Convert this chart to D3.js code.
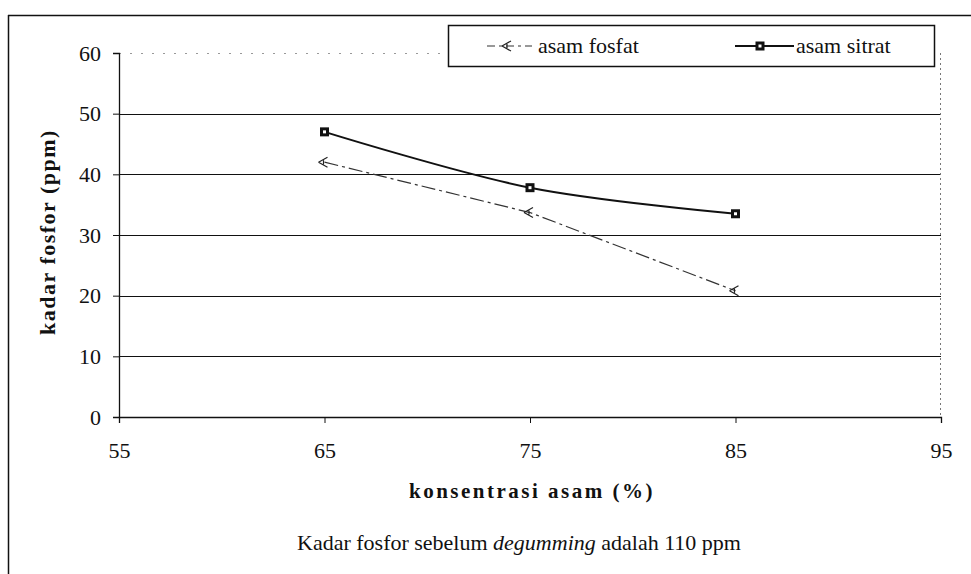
<!DOCTYPE html>
<meta charset="utf-8">
<style>
    body { margin: 0; background: #fff; }
</style>
<svg width="971" height="574"></svg>
<script src="https://cdn.jsdelivr.net/npm/d3@7"></script>
<script>

    // data
    var konsentrasi = [65, 75, 85];
    var asamFosfat = [42, 33.7, 20.8];
    var asamSitrat = [47, 37.8, 33.5];
    var xTicks = [55, 65, 75, 85, 95];
    var yTicks = [0, 10, 20, 30, 40, 50, 60];
    var seriesNames = ["asam fosfat", "asam sitrat"];

    var serif = "'Liberation Serif', 'Times New Roman', serif";
    var svg = d3.select("svg");

    var x = d3.scaleLinear().domain([55, 95]).range([119, 941]);
    var y = d3.scaleLinear().domain([0, 60]).range([417, 53]);

    // outer frame (top + left edge of the scanned figure)
    svg.append("line").attr("x1", 8).attr("x2", 971).attr("y1", 15.5).attr("y2", 15.5)
        .attr("stroke", "#111").attr("stroke-width", 1.5);
    svg.append("line").attr("x1", 8.5).attr("x2", 8.5).attr("y1", 15).attr("y2", 574)
        .attr("stroke", "#111").attr("stroke-width", 1.5);

    // gridlines
    svg.append("g").selectAll("line")
        .data(yTicks.filter(function (d) { return d > 0; }))
        .enter().append("line")
        .attr("x1", x(55)).attr("x2", x(95))
        .attr("y1", function (d) { return Math.round(y(d)) + 0.5; })
        .attr("y2", function (d) { return Math.round(y(d)) + 0.5; })
        .attr("stroke", function (d) { return d == 60 ? "#999" : "#111"; })
        .attr("stroke-dasharray", function (d) { return d == 60 ? "2,9" : null; })
        .attr("stroke-width", 1.2);

    // right border of plot, dotted
    svg.append("line").attr("x1", x(95) - 0.5).attr("x2", x(95) - 0.5)
        .attr("y1", y(60)).attr("y2", y(0))
        .attr("stroke", "#777").attr("stroke-dasharray", "2,3").attr("stroke-width", 1);

    // axes
    var yAxis = svg.append("g")
        .attr("transform", "translate(" + x(55) + ",0)")
        .call(d3.axisLeft(y).tickValues(yTicks).tickSize(6).tickPadding(12).tickFormat(d3.format("d")));
    var xAxis = svg.append("g")
        .attr("transform", "translate(0," + y(0) + ")")
        .call(d3.axisBottom(x).tickValues(xTicks).tickSize(6).tickPadding(19).tickFormat(d3.format("d")));
    [xAxis, yAxis].forEach(function (a) {
        a.attr("font-family", null).attr("font-size", null);
        a.select(".domain").attr("stroke", "#111").attr("stroke-width", 1.3);
        a.selectAll(".tick line").attr("stroke", "#111");
        a.selectAll("text").style("font-size", "22px").attr("fill", "#111");
    });

    // lines
    var lineFosfat = d3.line()
        .x(function (d, i) { return x(konsentrasi[i]); })
        .y(function (d) { return y(d); });
    var lineSitrat = d3.line()
        .curve(d3.curveCatmullRom)
        .x(function (d, i) { return x(konsentrasi[i]); })
        .y(function (d) { return y(d); });

    svg.append("path").datum(asamFosfat)
        .attr("d", lineFosfat)
        .attr("fill", "none").attr("stroke", "#333").attr("stroke-width", 1.2)
        .attr("stroke-dasharray", "14,4,3,4");
    svg.append("path").datum(asamSitrat)
        .attr("d", lineSitrat)
        .attr("fill", "none").attr("stroke", "#111").attr("stroke-width", 2);

    function fosfatMark(sel) {
        sel.append("path").attr("d", "M-6,0 L3,-5 M-6,0 L3,5 M-1,-2 L-1,2")
            .attr("fill", "none").attr("stroke", "#222").attr("stroke-width", 1.2);
    }
    function sitratMark(sel) {
        sel.append("rect").attr("x", -4.5).attr("y", -4.5).attr("width", 9).attr("height", 9)
            .attr("fill", "#111");
        sel.append("rect").attr("x", -1.5).attr("y", -1.5).attr("width", 3).attr("height", 3)
            .attr("fill", "#fff");
    }

    svg.append("g").selectAll("g").data(asamFosfat).enter().append("g")
        .attr("transform", function (d, i) { return "translate(" + x(konsentrasi[i]) + "," + y(d) + ")"; })
        .call(fosfatMark);
    svg.append("g").selectAll("g").data(asamSitrat).enter().append("g")
        .attr("transform", function (d, i) { return "translate(" + x(konsentrasi[i]) + "," + y(d) + ")"; })
        .call(sitratMark);

    // legend
    var legend = svg.append("g");
    legend.append("rect").attr("x", 448.5).attr("y", 25.5).attr("width", 486).attr("height", 41)
        .attr("fill", "#fff").attr("stroke", "#111").attr("stroke-width", 1.5);
    legend.append("line").attr("x1", 487).attr("x2", 532).attr("y1", 46).attr("y2", 46)
        .attr("stroke", "#333").attr("stroke-width", 1.2).attr("stroke-dasharray", "8,4,3,4");
    legend.append("g").attr("transform", "translate(508,46)").call(fosfatMark);
    legend.append("text").attr("x", 538).attr("y", 53).style("font-size", "22px").text(seriesNames[0]);
    legend.append("line").attr("x1", 735).attr("x2", 794).attr("y1", 46).attr("y2", 46)
        .attr("stroke", "#111").attr("stroke-width", 2);
    legend.append("g").attr("transform", "translate(760,46)").call(sitratMark);
    legend.append("text").attr("x", 796).attr("y", 53).style("font-size", "22px").text(seriesNames[1]);

    // axis titles
    svg.append("text")
        .attr("transform", "translate(55,232) rotate(-90)")
        .attr("text-anchor", "middle")
        .style("font-size", "22px").style("font-weight", "bold").style("letter-spacing", "1.5px")
        .text("kadar fosfor (ppm)");
    svg.append("text")
        .attr("x", 532).attr("y", 498)
        .attr("text-anchor", "middle")
        .style("font-size", "21px").style("font-weight", "bold").style("letter-spacing", "2.5px")
        .text("konsentrasi asam (%)");

    // note below the chart
    var note = svg.append("text").attr("x", 297).attr("y", 550)
        .style("font-size", "22px");
    note.append("tspan").text("Kadar fosfor sebelum ");
    note.append("tspan").style("font-style", "italic").text("degumming");
    note.append("tspan").text(" adalah 110 ppm");

    svg.selectAll("text").style("font-family", serif).attr("fill", "#111");

</script>
